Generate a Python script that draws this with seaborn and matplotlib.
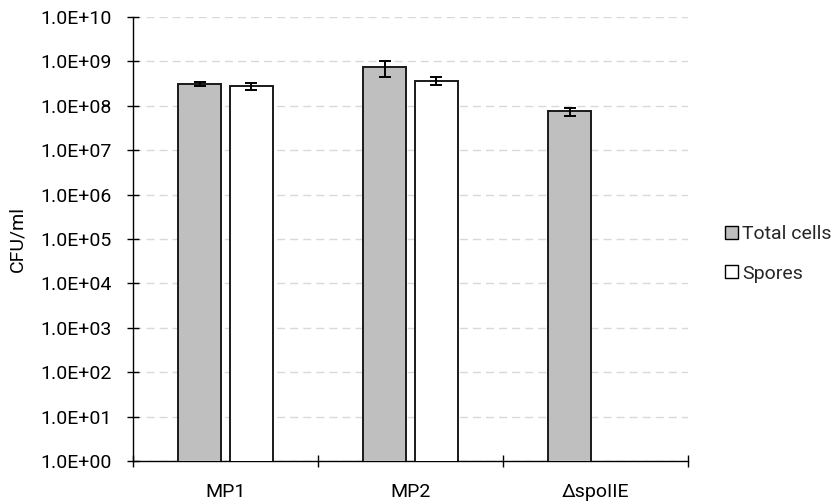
import numpy as np
import pandas as pd
import seaborn as sns
import matplotlib
matplotlib.use("Agg")
import matplotlib.pyplot as plt
from matplotlib.ticker import FixedLocator, FuncFormatter, NullLocator
from matplotlib.patches import Patch

strains = ["MP1", "MP2", "ΔspoIIE"]
series = ["Total cells", "Spores"]
total_cells = [3.15e8, 7.4e8, 7.5e7]
total_err = [3.5e7, 3.0e8, 1.6e7]
spores = [2.8e8, 3.7e8, np.nan]
spores_err = [5.0e7, 8.0e7, np.nan]
colors = {"Total cells": "#BFBFBF", "Spores": "#FFFFFF"}

rows = []
for s, v, e in zip(strains, total_cells, total_err):
    rows.append({"strain": s, "series": "Total cells", "value": v, "err": e})
for s, v, e in zip(strains, spores, spores_err):
    if not np.isnan(v):
        rows.append({"strain": s, "series": "Spores", "value": v, "err": e})
df = pd.DataFrame(rows)

sns.set_theme(style="white")
plt.rcParams["font.family"] = ["Roboto", "DejaVu Sans"]

fig = plt.figure(figsize=(8.35, 5.01), dpi=100)
ax = fig.add_axes([133 / 835, 40 / 501, (688 - 133) / 835, (461 - 17) / 501])
ax.set_yscale("log")

sns.barplot(data=df, x="strain", y="value", hue="series", order=strains,
            hue_order=series, palette=colors, width=0.562, gap=0.19,
            errorbar=None, edgecolor="#1a1a1a", linewidth=1.4, ax=ax,
            legend=False, zorder=3)

# error bars from the patch centres
for cont, name in zip(ax.containers, series):
    sub = df[df["series"] == name].set_index("strain")
    present = [s for s in strains if s in sub.index]
    patches = sorted(cont.patches, key=lambda p: p.get_x())
    for p, s in zip(patches, present):
        xc = p.get_x() + p.get_width() / 2
        ax.errorbar(xc, sub.loc[s, "value"], yerr=sub.loc[s, "err"],
                    fmt="none", ecolor="black", elinewidth=1.4,
                    capsize=4.3, capthick=1.4, zorder=4)

ax.set_ylim(1, 1e10)
ax.set_xlim(-0.5, 2.5)
ax.yaxis.set_major_locator(FixedLocator([10.0 ** k for k in range(11)]))
ax.yaxis.set_minor_locator(NullLocator())
ax.yaxis.set_major_formatter(FuncFormatter(lambda v, pos: f"{v:.1E}"))
ax.grid(axis="y", color="#D9D9D9", linestyle=(0, (5.8, 3.6)), linewidth=1.0, zorder=0)
ax.set_axisbelow(True)

ax.set_xticks([0, 1, 2])
ax.set_xticklabels(strains)
ax.xaxis.set_minor_locator(FixedLocator([-0.5, 0.5, 1.5, 2.5]))
ax.tick_params(axis="x", which="major", bottom=True, length=0, pad=16,
               labelsize=14, colors="black")
ax.tick_params(axis="x", which="minor", bottom=True, length=9, direction="inout",
               width=1.0, color="black")
ax.tick_params(axis="y", which="major", left=True, length=9, direction="inout",
               width=1.0, color="black", labelsize=14, pad=11)
ax.tick_params(axis="both", labelcolor="black")

for side in ["top", "right"]:
    ax.spines[side].set_visible(False)
for side in ["left", "bottom"]:
    ax.spines[side].set_color("black")
    ax.spines[side].set_linewidth(1.0)

ax.set_xlabel("")
ax.set_ylabel("CFU/ml", fontsize=14, color="black", labelpad=10)

handles = [Patch(facecolor=colors[s], edgecolor="black", linewidth=1.0, label=s) for s in series]
fig.legend(handles=handles, loc="center left", bbox_to_anchor=(725 / 835, 0.493),
           frameon=False, fontsize=14, handlelength=0.67, handleheight=0.67,
           handletextpad=0.2, labelspacing=1.1, borderaxespad=0, borderpad=0)

fig.savefig("out.png", dpi=100)
